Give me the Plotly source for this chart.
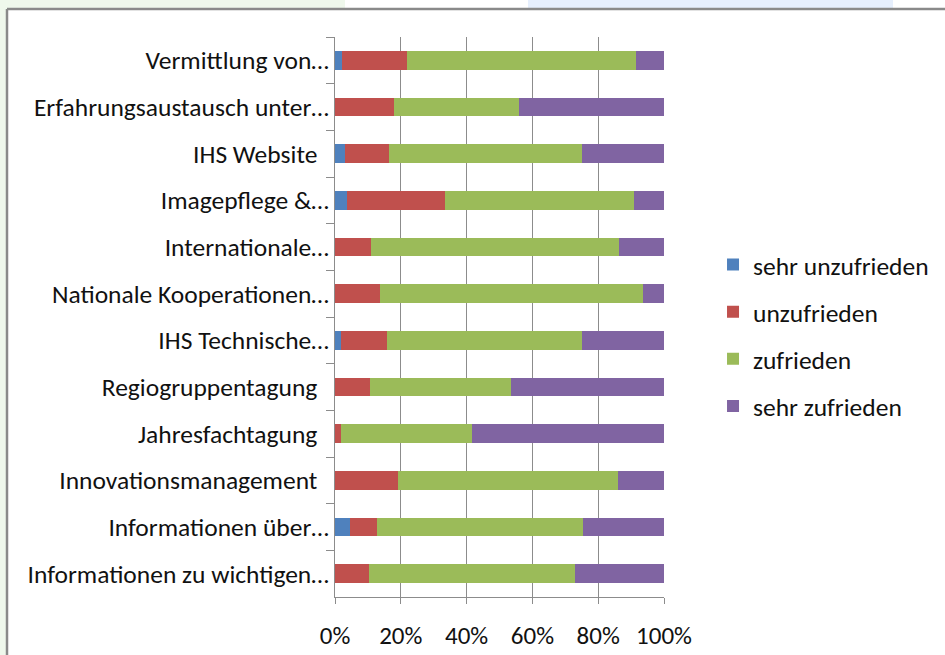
import plotly.graph_objects as go

categories = [
    "Vermittlung von…",
    "Erfahrungsaustausch unter…",
    "IHS Website\u00a0\u00a0",
    "Imagepflege &…",
    "Internationale…",
    "Nationale Kooperationen…",
    "IHS Technische…",
    "Regiogruppentagung\u00a0\u00a0",
    "Jahresfachtagung\u00a0\u00a0",
    "Innovationsmanagement\u00a0\u00a0",
    "Informationen über…",
    "Informationen zu wichtigen…",
]
sehr_unzufrieden = [2.0, 0.0, 3.1, 3.5, 0.0, 0.0, 1.7, 0.0, 0.0, 0.0, 4.6, 0.0]
unzufrieden = [19.9, 18.0, 13.4, 29.9, 11.0, 13.6, 14.2, 10.6, 1.7, 19.1, 8.3, 10.2]
zufrieden = [69.7, 37.9, 58.7, 57.4, 75.4, 79.9, 59.3, 42.9, 39.9, 66.9, 62.6, 62.7]
sehr_zufrieden = [8.4, 44.1, 24.8, 9.2, 13.6, 6.5, 24.8, 46.5, 58.4, 14.0, 24.5, 27.1]

series = [
    ("sehr unzufrieden", sehr_unzufrieden, "#4F81BD"),
    ("unzufrieden", unzufrieden, "#C0504D"),
    ("zufrieden", zufrieden, "#9BBB59"),
    ("sehr zufrieden", sehr_zufrieden, "#8064A2"),
]

FONT = "Carlito, Lato, sans-serif"
fig = go.Figure()
for i, (name, vals, color) in enumerate(series):
    fig.add_trace(go.Bar(
        y=categories, x=[v / 100 for v in vals], name=name, orientation="h",
        marker=dict(color=color, line=dict(width=0)), legendgroup=f"g{i}",
    ))

fig.update_layout(
    barmode="stack",
    bargap=0.6,
    width=945, height=655,
    margin=dict(l=335, r=281, t=37, b=58, autoexpand=False),
    paper_bgcolor="white", plot_bgcolor="white",
    font=dict(family=FONT, size=25, color="#111111"),
    showlegend=True,
    legend=dict(
        x=1.149, xanchor="left", y=0.467, yanchor="middle",
        traceorder="grouped", tracegroupgap=11,
        font=dict(family=FONT, size=25.5, color="#111111"),
        itemwidth=30,
    ),
    xaxis=dict(
        range=[0, 1], tickvals=[0, 0.2, 0.4, 0.6, 0.8, 1.0], tickformat=".0%",
        showgrid=True, gridcolor="#8C8C8C", gridwidth=1,
        showline=True, linecolor="#8C8C8C", linewidth=1,
        ticks="outside", ticklen=6, tickcolor="#8C8C8C",
        tickfont=dict(family=FONT, size=25, color="#111111"),
        ticklabelstandoff=10, zeroline=False, fixedrange=True, automargin=False,
    ),
    yaxis=dict(
        type="category", autorange="reversed",
        showline=True, linecolor="#8C8C8C", linewidth=1,
        ticks="outside", ticklen=8, tickcolor="#8C8C8C", tickson="boundaries",
        tickfont=dict(family=FONT, size=25.5, color="#111111"),
        showgrid=False, fixedrange=True, automargin=False,
    ),
)

# surrounding screenshot frame
shapes = [
    dict(type="rect", xref="paper", yref="paper", x0=-335/329, x1=(345-335)/329,
         y0=1 + 28/560, y1=1 + 37/560, fillcolor="#EFF8EC", line=dict(width=0), layer="below"),
    dict(type="rect", xref="paper", yref="paper", x0=(528-335)/329, x1=(893-335)/329,
         y0=1 + 28/560, y1=1 + 37/560, fillcolor="#E6EFFD", line=dict(width=0), layer="below"),
    dict(type="rect", xref="paper", yref="paper", x0=-335/329, x1=-329/329,
         y0=-58/560, y1=1 + 37/560, fillcolor="#EFF8EC", line=dict(width=0), layer="below"),
    dict(type="line", xref="paper", yref="paper", x0=-328/329, x1=610/329,
         y0=1 + 28/560, y1=1 + 28/560, line=dict(color="#8A8A8A", width=2.5)),
    dict(type="line", xref="paper", yref="paper", x0=-328/329, x1=-328/329,
         y0=-58/560, y1=1 + 28/560, line=dict(color="#8A8A8A", width=2.5)),
]
fig.update_layout(shapes=shapes)

fig.write_html(
    "out.html",
    config={"displayModeBar": False},
    post_script="document.body.style.margin='0';document.body.style.overflow='hidden';",
)
